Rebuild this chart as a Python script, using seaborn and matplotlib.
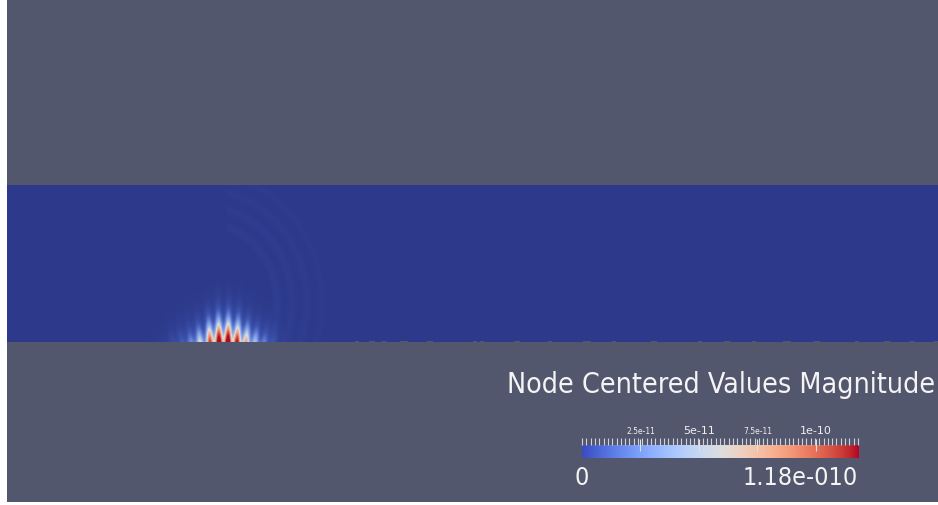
import numpy as np
import pandas as pd
import matplotlib
matplotlib.use("Agg")
import matplotlib.pyplot as plt
from matplotlib.colors import LinearSegmentedColormap
import seaborn as sns

# ---- data ----
vmax = 1.18e-10
domain_width = 931          # domain cells across
domain_height = 157         # domain cells up
stripe_x = [166, 175, 184, 193, 203, 212, 221, 230, 239, 248, 257, 266]
stripe_amp = [0.04, 0.08, 0.16, 0.36, 0.72, 0.97, 1.0, 0.82, 0.54, 0.30, 0.15, 0.07]
arc_radius = [70, 85, 100, 115]
arc_amp = [0.015, 0.014, 0.012, 0.009]
edge_notch_x = [350, 365, 377, 397, 423, 468, 475, 510, 543, 580, 607, 647, 693,
                720, 747, 780, 810, 850, 880, 905, 930]
edge_notch_w = [2, 3, 2, 4, 3, 2, 2, 3, 2, 4, 2, 3, 2, 3, 2, 4, 3, 2, 3, 2, 3]
cbar_ticks = [2.5e-11, 5e-11, 7.5e-11, 1e-10]
cbar_ticklabels = ["2.5e-11", "5e-11", "7.5e-11", "1e-10"]
cbar_label_sizes = [5.5, 8, 5.5, 8]
title = "Node Centered Values Magnitude"
range_labels = ["0", "1.18e-010"]

# ---- build field (rows from top to bottom) ----
xs = np.arange(domain_width) + 0.5
ys = np.arange(domain_height) + 0.5          # distance from top
X, Y = np.meshgrid(xs, ys)
d = domain_height - Y                        # distance from bottom edge
field = np.zeros_like(X)
for cx, a in zip(stripe_x, stripe_amp):
    lean = (cx - 217) * 0.004 * d
    L = 12 + 9 * a
    field += a * np.exp(-((X - cx - lean) ** 2) / (2 * 2.5 ** 2)) * np.exp(-(d / L) ** 1.6)
# soft envelope between the stripes
env_cx, env_w = 217, 28
field += 0.2 * np.exp(-((X - env_cx) ** 2) / (2 * env_w ** 2)) * np.exp(-d / 14)
cxa, cya = 200, 40
R = np.sqrt((X - cxa) ** 2 + ((d - cya) * 0.9) ** 2)
for r, a in zip(arc_radius, arc_amp):
    ang = (X > cxa + 20)
    field += a * ang * np.exp(-((R - r) ** 2) / (2 * 3.0 ** 2))
field = np.clip(field, 0, 1) * vmax
mask = np.zeros_like(field, dtype=bool)
for nx, nw in zip(edge_notch_x, edge_notch_w):
    mask[-1:, nx - nw:nx + nw] = True
df = pd.DataFrame(field)

cw = plt.get_cmap("coolwarm")
surf_cmap = LinearSegmentedColormap.from_list(
    "surf", [(0.0, "#2d3a8c"), (0.12, "#3d55b0"), (0.3, "#7d9de8"),
             (0.5, "#dcdcdc"), (0.7, "#f09a78"), (0.85, "#d4503e"), (1.0, "#a8102a")])

W, H = 938, 505
fig = plt.figure(figsize=(W / 100, H / 100), dpi=100, facecolor="white")

bg = fig.add_axes([7 / W, 3 / H, 931 / W, 502 / H])
bg.set_facecolor("#52576e")
bg.set_xticks([]); bg.set_yticks([])
for s in bg.spines.values():
    s.set_visible(False)

ax = fig.add_axes([7 / W, (H - 342) / H, 931 / W, 157 / H])
ax.set_facecolor("#52576e")
sns.heatmap(df, ax=ax, cmap=surf_cmap, vmin=0, vmax=vmax, cbar=False, mask=mask,
            xticklabels=False, yticklabels=False, rasterized=True)
ax.set_xlabel(""); ax.set_ylabel("")

# colour bar
cax = fig.add_axes([582 / W, (H - 458) / H, 276 / W, 13 / H])
grad = np.linspace(0, vmax, 256)[None, :]
cax.imshow(grad, aspect="auto", cmap=cw, extent=[0, vmax, 0, 1], vmin=0, vmax=vmax)
cax.set_xlim(0, vmax); cax.set_ylim(0, 1)
cax.set_yticks([])
for s in cax.spines.values():
    s.set_visible(False)
cax.xaxis.tick_top()
cax.set_xticks(cbar_ticks)
cax.set_xticklabels(cbar_ticklabels)
cax.set_xticks(np.linspace(0, vmax, 65), minor=True)
cax.tick_params(axis="x", which="minor", direction="out", length=5, width=0.8,
                color="#d0d0d8", top=True, bottom=False)
cax.tick_params(axis="x", which="major", direction="inout", length=9, width=0.8,
                color="#e0e0e6", pad=2, labelcolor="#f0f0f0", top=True, bottom=False)
for lbl, sz in zip(cax.get_xticklabels(), cbar_label_sizes):
    lbl.set_fontsize(sz)
    lbl.set_fontfamily("DejaVu Sans")

fig.text(935 / W, 1 - 393 / H, title, ha="right", va="baseline",
         fontsize=20.5, color="#f4f4f4", family="DejaVu Sans", fontstretch="condensed")
fig.text(581.5 / W, 1 - 485 / H, range_labels[0], ha="center", va="baseline",
         fontsize=18, color="#f4f4f4", family="DejaVu Sans", fontstretch="condensed")
fig.text(858 / W, 1 - 485 / H, range_labels[1], ha="right", va="baseline",
         fontsize=18, color="#f4f4f4", family="DejaVu Sans", fontstretch="condensed")

fig.savefig("out.png", dpi=100, facecolor="white")
